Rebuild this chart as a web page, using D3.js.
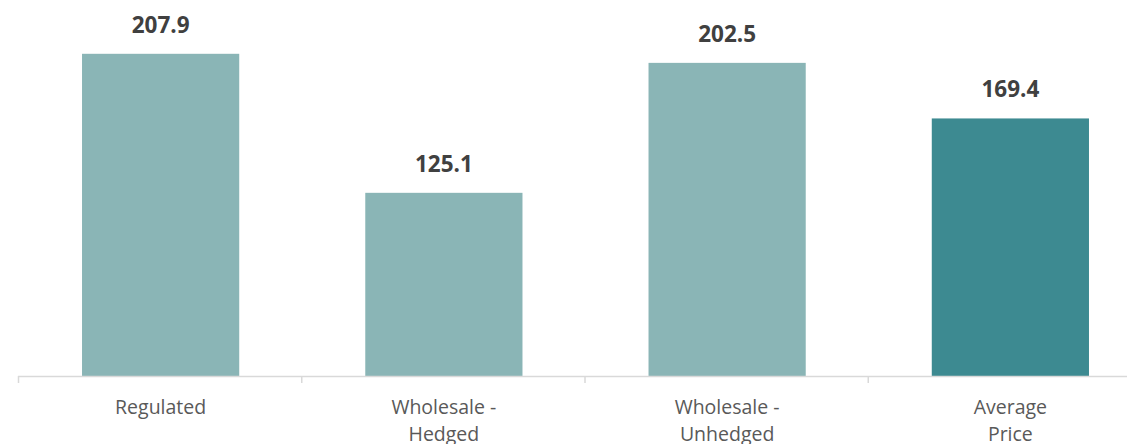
<html>
  <head>
    <title>Price by source</title>
    <script src="https://d3js.org/d3.v7.min.js"></script>
    <style>
      body { margin: 0; background: #fff; }
      svg { display: block; }
    </style>
  </head>
  <body>
    <svg width="1127" height="444"></svg>
    <script>
      // data
      var categories = ["Regulated", "Wholesale - Hedged", "Wholesale - Unhedged", "Average Price"];
      var labelLines = [["Regulated"], ["Wholesale -", "Hedged"], ["Wholesale -", "Unhedged"], ["Average", "Price"]];
      var values = [207.9, 125.1, 202.5, 169.4];
      var colors = ["#8ab5b6", "#8ab5b6", "#8ab5b6", "#3d8a91"];

      var svg = d3.select("svg");
      var baseY = 376;

      var x = d3.scaleBand()
        .domain(categories)
        .range([19, 1152])
        .paddingInner(0.445)
        .paddingOuter(0.2225);

      // value axis doesn't start at zero in the original
      var y = d3.scaleLinear()
        .domain([16, 220])
        .range([baseY, baseY - 204 * 1.679]);

      svg.selectAll(".bar")
        .data(values)
        .enter().append("rect")
        .attr("class", "bar")
        .attr("x", function(d, i){ return x(categories[i]); })
        .attr("width", x.bandwidth())
        .attr("y", function(d){ return y(d); })
        .attr("height", function(d){ return baseY - y(d); })
        .attr("fill", function(d, i){ return colors[i]; });

      svg.selectAll(".val")
        .data(values)
        .enter().append("text")
        .attr("class", "val")
        .attr("x", function(d, i){ return x(categories[i]) + x.bandwidth() / 2; })
        .attr("y", function(d){ return y(d) - 21; })
        .attr("text-anchor", "middle")
        .style("font-family", "'Open Sans', sans-serif")
        .style("font-weight", "bold")
        .style("font-size", "22.5px")
        .style("fill", "#404040")
        .text(function(d){ return d.toFixed(1); });

      // axis line + ticks between categories
      var step = x.step();
      svg.append("line")
        .attr("x1", 18).attr("x2", 1127)
        .attr("y1", baseY + 0.5).attr("y2", baseY + 0.5)
        .attr("stroke", "#d9d9d9").attr("stroke-width", 1.5);

      svg.selectAll(".tick")
        .data(d3.range(categories.length))
        .enter().append("line")
        .attr("class", "tick")
        .attr("x1", function(i){ return 18.5 + i * step; })
        .attr("x2", function(i){ return 18.5 + i * step; })
        .attr("y1", baseY).attr("y2", baseY + 7)
        .attr("stroke", "#d9d9d9").attr("stroke-width", 1.5);

      var cat = svg.selectAll(".cat")
        .data(labelLines)
        .enter().append("text")
        .attr("class", "cat")
        .attr("x", function(d, i){ return x(categories[i]) + x.bandwidth() / 2; })
        .attr("y", 414)
        .attr("text-anchor", "middle")
        .style("font-family", "'Open Sans', sans-serif")
        .style("font-size", "19.5px")
        .style("fill", "#595959");

      cat.selectAll("tspan")
        .data(function(d){ return d; })
        .enter().append("tspan")
        .attr("x", function(){ return d3.select(this.parentNode).attr("x"); })
        .attr("dy", function(d, j){ return j === 0 ? 0 : 27; })
        .text(function(d){ return d; });
    </script>
  </body>
</html>
